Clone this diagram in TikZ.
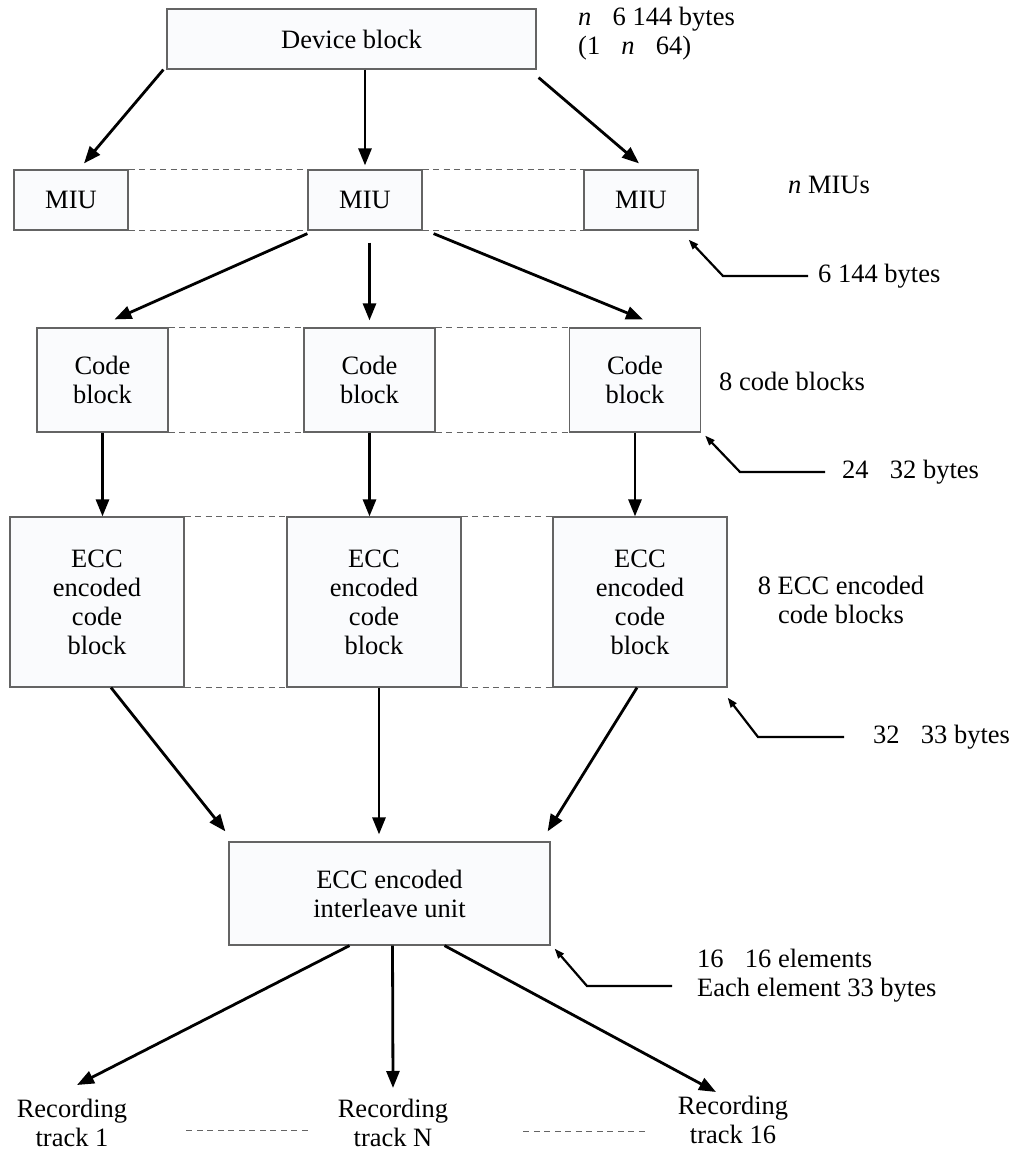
\documentclass[tikz,border=0pt]{standalone}
\usepackage{fontspec}
\setmainfont{Liberation Serif}
\usetikzlibrary{arrows.meta}
\definecolor{boxfill}{RGB}{250,251,253}
\definecolor{boxline}{RGB}{100,100,100}
\newcommand{\sgap}{\hspace{0.8em}}

\begin{document}
\begin{tikzpicture}[x=1pt, y=-1pt,
  every node/.style={font=\fontsize{26.5}{29}\selectfont, inner sep=0pt},
  blk/.style={draw=boxline, line width=1.2pt, fill=boxfill, align=center},
  flow/.style={line width=2.8pt, -{Triangle[length=17pt,width=13pt]}},
  note/.style={line width=2.2pt, -{Triangle[length=10pt,width=7pt]}},
  rowline/.style={draw=boxline, line width=1pt, dash pattern=on 6pt off 4.5pt}]
\useasboundingbox (0,0) rectangle (1017,1153);

\node[blk, minimum width=369pt, minimum height=60pt] (dev) at (351.5,39) {Device block};
\foreach \n/\x in {L/71, M/365, R/641}
  \node[blk, minimum width=114pt, minimum height=60pt] (miu\n) at (\x,200) {MIU};
\foreach \n/\x in {L/102.5, M/369.5, R/635}
  \node[blk, minimum width=131pt, minimum height=104pt] (code\n) at (\x,380) {Code\\block};
\foreach \n/\x in {L/97, M/374, R/640}
  \node[blk, minimum width=174pt, minimum height=170pt] (ecc\n) at (\x,602) {ECC\\encoded\\code\\block};
\node[blk, minimum width=321pt, minimum height=103pt] (il) at (389.5,893.5) {ECC encoded\\interleave unit};
\node[align=center] (recL) at (72,1123) {Recording\\track 1};
\node[align=center] (recM) at (393,1123) {Recording\\track N};
\node[align=center] (recR) at (733,1120) {Recording\\track 16};

\node[anchor=west, align=left] (size) at (578,34) {\textit{n}\sgap 6 144 bytes\\(1\sgap\textit{n}\sgap 64)};
\node[anchor=west] (nmiu) at (788,185) {\textit{n} MIUs};
\node[anchor=west] (miubytes) at (818,276) {6 144 bytes};
\node[anchor=west] (ncode) at (719,381) {8 code blocks};
\node[anchor=west] (codebytes) at (842,472) {24\sgap 32 bytes};
\node[align=center] (necc) at (841,600) {8 ECC encoded\\code blocks};
\node[anchor=west] (eccbytes) at (873,737) {32\sgap 33 bytes};
\node[anchor=west, align=left] (ilsize) at (697,976) {16\sgap 16 elements\\Each element 33 bytes};

\draw[flow] ([xshift=-3pt]dev.south west) -- ([xshift=13pt,yshift=6pt]miuL.north);
\draw[flow] (miuM.north |- dev.south) -- ([yshift=4pt]miuM.north);
\draw[flow] ([xshift=2pt,yshift=-8pt]dev.south east) -- ([xshift=-2pt,yshift=6pt]miuR.north);

\draw[flow] ([yshift=-3pt]miuM.south west) -- ([xshift=12pt,yshift=8pt]codeL.north);
\draw[flow, shorten <=12pt, shorten >=7pt] (codeM.north |- miuM.south) -- (codeM.north);
\draw[flow] ([xshift=11pt,yshift=-3pt]miuM.south east) -- ([xshift=8pt,yshift=8pt]codeR.north);

\foreach \n in {L,M,R}
  \draw[flow] (code\n.south) -- (code\n.south |- ecc\n.north);

\draw[flow] ([xshift=14pt]eccL.south) -- ([xshift=-3pt,yshift=10pt]il.north west);
\draw[flow] ([xshift=5pt]eccM.south) -- ([xshift=-10.5pt,yshift=7pt]il.north);
\draw[flow] ([xshift=-3pt]eccR.south) -- ([xshift=-3pt,yshift=10pt]il.north east);

\draw[flow] ([xshift=-40pt]il.south) -- ([xshift=5pt,yshift=14pt]recL.north);
\draw[flow] ([xshift=3pt]il.south) -- ([yshift=11pt]recM.north);
\draw[flow] ([xshift=55pt]il.south) -- ([xshift=-17pt,yshift=4pt]recR.north);

\draw[note] ([xshift=-10pt]miubytes.west) -- ++(-85,0) -- ([xshift=-10pt,yshift=-9pt]miuR.south east);
\draw[note] ([xshift=-17pt]codebytes.west) -- ++(-85,0) -- ([xshift=4pt,yshift=-3pt]codeR.south east);
\draw[note] ([xshift=-29pt]eccbytes.west) -- ++(-86,0) -- ([yshift=-10pt]eccR.south east);
\draw[note] ([xshift=-25pt,yshift=-10pt]ilsize.west) -- ++(-85,0) -- ([xshift=4pt,yshift=-3pt]il.south east);

\foreach \r in {miu,code,ecc}
  \foreach \a/\b in {L/M,M/R} {
    \draw[rowline] (\r\a.north east) -- (\r\b.north west);
    \draw[rowline] (\r\a.south east) -- (\r\b.south west);
  }
\draw[rowline] ([xshift=59pt,yshift=-7pt]recL.east) -- ([xshift=-30pt,yshift=-7pt]recM.west);
\draw[rowline] ([xshift=75pt,yshift=-8pt]recM.east) -- ([xshift=-32pt,yshift=-11pt]recR.west);
\end{tikzpicture}
\end{document}
